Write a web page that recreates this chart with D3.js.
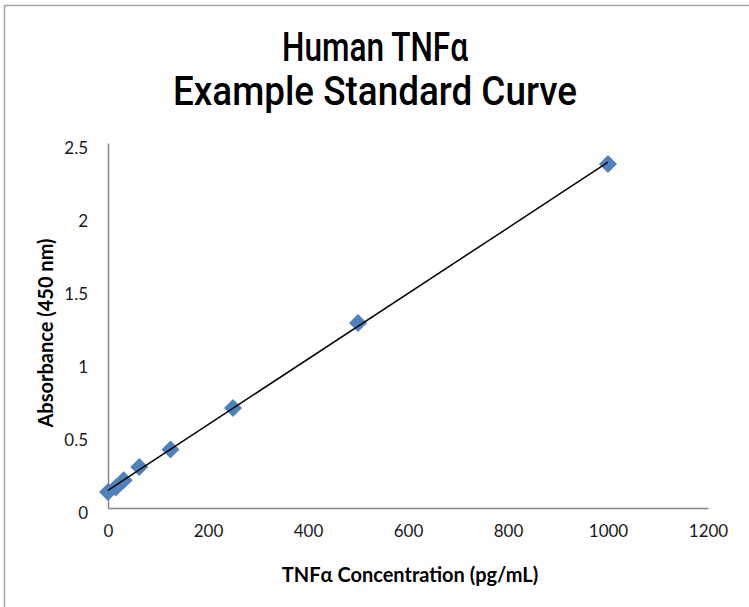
<!DOCTYPE html>
<html>
<head>
<meta charset="utf-8">
<script src="https://cdn.jsdelivr.net/npm/d3@7"></script>
<style>
  body { margin: 0; background: #fff; }
  svg { display: block; }
  .tick text { font-family: Lato, "Open Sans", sans-serif; font-size: 17px; fill: #1a1a1a; }
  .axis-title { font-family: Lato, "Open Sans", sans-serif; font-size: 20px; font-weight: bold; fill: #000; }
  .chart-title { font-family: Roboto, "DejaVu Sans Condensed", sans-serif; font-size: 40px; font-weight: 500; fill: #000; }
</style>
</head>
<body>
<div id="chart"></div>
<script>
// standard concentrations (pg/mL) and measured absorbance at 450 nm
const concentrations = [0, 15.6, 31.25, 62.5, 125, 250, 500, 1000];
const absorbance = [0.11, 0.14, 0.19, 0.28, 0.40, 0.685, 1.267, 2.356];
const xTicks = [0, 200, 400, 600, 800, 1000, 1200];
const yTicks = [0, 0.5, 1, 1.5, 2, 2.5];
const titleLines = ['Human TNFα', 'Example Standard Curve'];

const W = 749;
const H = 607;
const margin = { top: 143, right: 41, bottom: 99, left: 108 };
const width = W - margin.left - margin.right;
const height = H - margin.top - margin.bottom;

const svg = d3.select('#chart').append('svg')
  .attr('width', W)
  .attr('height', H);

// chart frame (runs off the right / bottom edge)
svg.append('rect')
  .attr('x', 4.5).attr('y', 5.5)
  .attr('width', 900).attr('height', 900)
  .attr('fill', 'none')
  .attr('stroke', '#a6a6a6')
  .attr('stroke-width', 1.5);

// title
svg.selectAll('.chart-title')
  .data(titleLines)
  .join('text')
  .attr('class', 'chart-title')
  .attr('x', 375)
  .attr('y', (d, i) => 61 + i * 44)
  .attr('text-anchor', 'middle')
  .attr('textLength', (d, i) => (i === 0 ? 186 : 404))
  .attr('lengthAdjust', 'spacingAndGlyphs')
  .text(d => d);

const g = svg.append('g').attr('transform', `translate(${margin.left},${margin.top})`);

const x = d3.scaleLinear().domain([0, 1200]).range([0, width]);
const y = d3.scaleLinear().domain([0, 2.5]).range([height, 0]);

// axes
const xAxis = g.append('g')
  .attr('transform', `translate(0,${height})`)
  .call(d3.axisBottom(x).tickValues(xTicks).tickSize(0).tickPadding(17).tickFormat(d3.format('d')));
const yAxis = g.append('g')
  .call(d3.axisLeft(y).tickValues(yTicks).tickSize(0).tickPadding(20).tickFormat(d => d));
[xAxis, yAxis].forEach($a => {
  $a.select('.domain').attr('stroke', '#878787').attr('stroke-width', 1.5);
  $a.selectAll('.tick line').remove();
});
yAxis.selectAll('.tick text').attr('dy', '0.6em');

// linear trendline (least squares)
const mx = d3.mean(concentrations);
const my = d3.mean(absorbance);
let sxy = 0;
let sxx = 0;
concentrations.forEach((c, i) => {
  sxy += (c - mx) * (absorbance[i] - my);
  sxx += (c - mx) * (c - mx);
});
const slope = sxy / sxx;
const intercept = my - slope * mx;
const xExt = d3.extent(concentrations);

// diamond markers
const R = 9;
const points = concentrations.map((c, i) => ({ c, a: absorbance[i] }));
g.selectAll('.pt')
  .data(points)
  .join('path')
  .attr('class', 'pt')
  .attr('d', `M0,${-R}L${R},0L0,${R}L${-R},0Z`)
  .attr('transform', d => `translate(${x(d.c)},${y(d.a)})`)
  .attr('fill', '#4f81bd');

// trendline drawn over the markers
g.append('line')
  .attr('x1', x(xExt[0])).attr('y1', y(intercept + slope * xExt[0]))
  .attr('x2', x(xExt[1])).attr('y2', y(intercept + slope * xExt[1]))
  .attr('stroke', '#000')
  .attr('stroke-width', 1.5);

// axis titles
svg.append('text')
  .attr('class', 'axis-title')
  .attr('x', 410).attr('y', 582)
  .attr('text-anchor', 'middle')
  .text('TNFα Concentration (pg/mL)');

svg.append('text')
  .attr('class', 'axis-title')
  .attr('transform', 'translate(53,333) rotate(-90)')
  .attr('text-anchor', 'middle')
  .text('Absorbance (450 nm)');
</script>
</body>
</html>
